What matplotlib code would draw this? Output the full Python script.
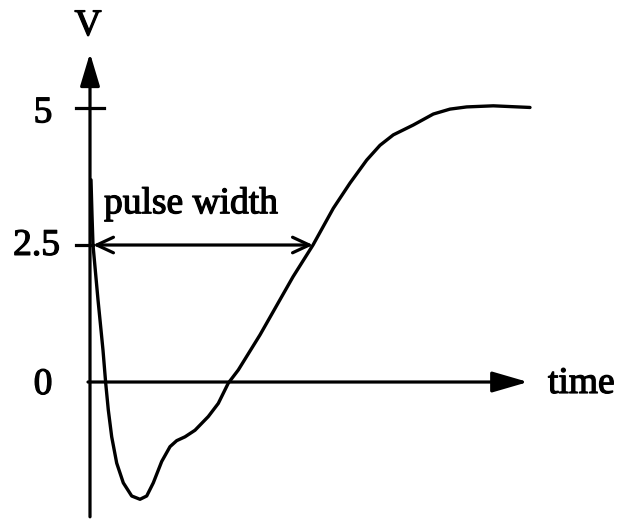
import matplotlib
matplotlib.use("Agg")
import matplotlib.pyplot as plt
import matplotlib.patheffects as pe

# Pulse waveform (time in arbitrary units, voltage in V)
time_vals = [0.1, 0.2, 0.3, 0.8, 1.1, 1.3, 1.57, 1.83, 2.17, 2.67, 3.33, 4.17,
             5.0, 5.67, 6.33, 7.17, 8.0, 8.67, 9.5, 10.5, 11.83, 12.83, 13.83,
             14.83, 17.0, 20.3, 22.3, 24.33, 26.0, 27.67, 29.0, 30.33, 32.33,
             34.33, 36.0, 37.67, 40.33, 44.0]
volt_vals = [3.69, 3.05, 2.50, 1.50, 0.95, 0.58, -0.02, -0.51, -1.00, -1.48,
             -1.84, -2.08, -2.14, -2.08, -1.84, -1.45, -1.18, -1.07, -1.00,
             -0.88, -0.63, -0.39, -0.02, 0.22, 0.86, 1.92, 2.50, 3.17, 3.63,
             4.05, 4.32, 4.51, 4.69, 4.89, 4.98, 5.02, 5.04, 5.01]

tick_values = [5, 2.5, 0]
tick_labels = ["5", "2.5", "0"]
pulse_start, pulse_end, pulse_level = 0.3, 22.3, 2.5

fig = plt.figure(figsize=(6.19, 5.20), dpi=100)
ax = fig.add_axes([0, 0, 1, 1])
ax.set_xlim(-9, 52.9)
ax.set_ylim(-2.518, 6.971)
ax.axis("off")

FONT = dict(family="Liberation Serif", fontsize=27, color="black",
            path_effects=[pe.withStroke(linewidth=0.9, foreground="black")])
LW = 2.3

# curve
ax.plot(time_vals, volt_vals, color="black", lw=2.4, solid_capstyle="round",
        solid_joinstyle="round")

# axes arrows
ax.annotate("", xy=(0, 6.0), xytext=(0, -2.46),
            arrowprops=dict(arrowstyle="-|>,head_length=1.0,head_width=0.3",
                            lw=LW, color="black", mutation_scale=20,
                            shrinkA=0, shrinkB=0))
ax.annotate("", xy=(43.8, 0), xytext=(-0.2, 0),
            arrowprops=dict(arrowstyle="-|>,head_length=1.1,head_width=0.32",
                            lw=LW, color="black", mutation_scale=20,
                            shrinkA=0, shrinkB=0))

# ticks
ax.plot([-1.4, 1.4], [tick_values[0]] * 2, color="black", lw=LW)
ax.plot([-1.4, 0.3], [tick_values[1]] * 2, color="black", lw=LW)

# pulse width double arrow
ax.annotate("", xy=(pulse_end, pulse_level), xytext=(pulse_start, pulse_level),
            arrowprops=dict(arrowstyle="<->,head_length=0.6,head_width=0.28",
                            lw=LW, color="black", mutation_scale=20,
                            shrinkA=0, shrinkB=0))

# labels
ax.text(-4.7, 4.74, tick_labels[0], ha="center", va="baseline", **FONT)
ax.text(-3.0, 2.32, tick_labels[1], ha="right", va="baseline", **FONT)
ax.text(-4.7, -0.22, tick_labels[2], ha="center", va="baseline", **FONT)
ax.text(-0.2, 6.33, "V", ha="center", va="baseline", **FONT)
ax.text(45.8, -0.2, "time", ha="left", va="baseline", **FONT)
ax.text(1.4, 3.08, "pulse width", ha="left", va="baseline", **FONT)

fig.savefig("out.png", dpi=100)
